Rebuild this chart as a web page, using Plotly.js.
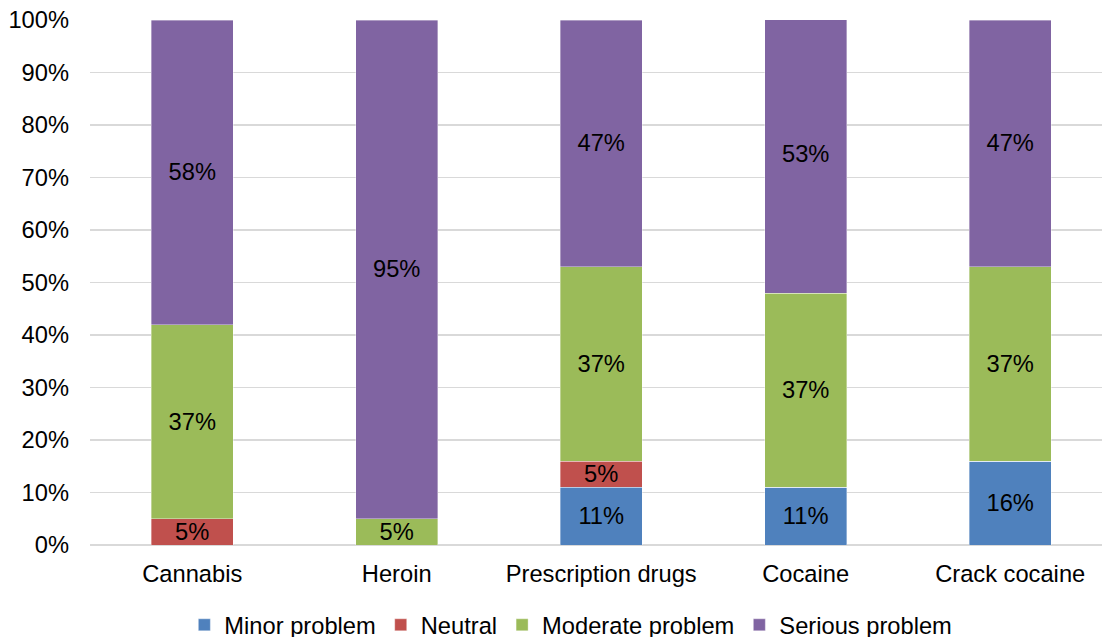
<!DOCTYPE html>
<html>
<head>
<meta charset="utf-8">
<script src="https://cdn.plot.ly/plotly-3.0.1.min.js"></script>
<style>
  html, body { margin: 0; padding: 0; background: #fff; }
  #chart { width: 1102px; height: 637px; }
</style>
</head>
<body>
<div id="chart"></div>
<script>
// Perceived seriousness of each drug, share of responses (%)
const categories = ["Cannabis", "Heroin", "Prescription drugs", "Cocaine", "Crack cocaine"];
const minorProblem    = [0, 0, 11, 11, 16];
const neutral         = [5, 0, 5, 0, 0];
const moderateProblem = [37, 5, 37, 37, 37];
const seriousProblem  = [58, 95, 47, 53, 47];
const yTickValues = [0, 10, 20, 30, 40, 50, 60, 70, 80, 90, 100];

const seriesDefs = [
  { name: "Minor problem",    values: minorProblem,    color: "#4F81BD" },
  { name: "Neutral",          values: neutral,         color: "#C0504D" },
  { name: "Moderate problem", values: moderateProblem, color: "#9BBB59" },
  { name: "Serious problem",  values: seriousProblem,  color: "#8064A2" }
];

const FONT = "Liberation Sans, Arial, sans-serif";
const FS = 23.7;

const traces = seriesDefs.map(s => ({
  type: "bar",
  name: s.name,
  x: categories,
  y: s.values,
  width: 0.4,
  marker: { color: s.color, line: { color: "rgba(255,255,255,0.6)", width: 0.6 } },
  text: s.values.map(v => v > 0 ? v + "%" : ""),
  textposition: "inside",
  insidetextanchor: "middle",
  constraintext: "none",
  textangle: 0,
  insidetextfont: { family: FONT, size: FS, color: "#000" },
  hoverinfo: "skip"
}));

const layout = {
  width: 1102,
  height: 637,
  barmode: "stack",
  paper_bgcolor: "#fff",
  plot_bgcolor: "#fff",
  margin: { l: 90, r: 0, t: 20, b: 92 },
  font: { family: FONT, size: FS, color: "#000" },
  xaxis: {
    type: "category",
    range: [-0.5, 4.449],
    showgrid: false,
    showline: false,
    zeroline: false,
    ticks: "",
    ticklabelstandoff: 12,
    automargin: false,
    tickfont: { family: FONT, size: FS, color: "#000" }
  },
  yaxis: {
    range: [0, 100],
    tickvals: yTickValues,
    ticktext: yTickValues.map(v => v + "%"),
    showgrid: true,
    gridcolor: "#D9D9D9",
    gridwidth: 1.4,
    zeroline: true,
    zerolinecolor: "#D9D9D9",
    zerolinewidth: 1.4,
    showline: false,
    ticks: "",
    ticklabelstandoff: 20,
    automargin: false,
    tickfont: { family: FONT, size: FS, color: "#000" }
  },
  showlegend: true,
  legend: {
    orientation: "h",
    xref: "container",
    yref: "container",
    x: 0.518,
    xanchor: "center",
    y: 0.019,
    yanchor: "middle",
    font: { family: FONT, size: FS, color: "#000" },
    itemclick: false,
    traceorder: "normal"
  }
};

Plotly.newPlot("chart", traces, layout, { staticPlot: true, displayModeBar: false });
</script>
</body>
</html>
